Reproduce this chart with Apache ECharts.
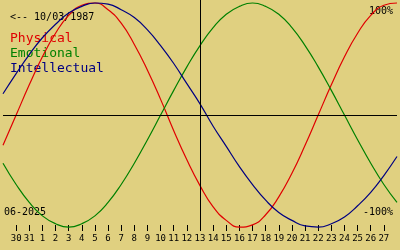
<!DOCTYPE html>
<html><head><meta charset="utf-8">
<script src="https://cdn.jsdelivr.net/npm/echarts@6/dist/echarts.min.js"></script>
<style>html,body{margin:0;padding:0;background:#e0d080}#c{width:400px;height:250px}</style>
</head><body><div id="c"></div>
<script>
// Day labels for positions 0..30 (29 May .. 28 June 2025)
const dayLabels = ['29','30','31','1','2','3','4','5','6','7','8','9','10','11','12','13','14','15','16','17','18','19','20','21','22','23','24','25','26','27','28'];
const todayLabel = '13';
const physical = [-27,0,27,52,73,89,98,100,94,82,63,40,14,-14,-40,-63,-82,-94,-100,-98,-89,-73,-52,-27,0,27,52,73,89,98,100];
const emotional = [-43,-62,-78,-90,-97,-100,-97,-90,-78,-62,-43,-22,0,22,43,62,78,90,97,100,97,90,78,62,43,22,0,-22,-43,-62,-78];
const intellectual = [19,37,54,69,81,91,97,100,99,94,87,76,62,46,28,10,-10,-28,-46,-62,-76,-87,-94,-99,-100,-97,-91,-81,-69,-54,-37];
const birthText = '<-- 10/03/1987';
const monthText = '06-2025';
const seriesNames = ['Physical','Emotional','Intellectual'];
const colors = ['#e00000','#008000','#000080'];

const chart = echarts.init(document.getElementById('c'), null, {renderer:'canvas'});
const mono = '"DejaVu Sans Mono", monospace';
function line(name, data, color, extra) {
  return Object.assign({
    type:'line', name, data, smooth:true, symbol:'none', silent:true,
    lineStyle:{color, width:1.2}, itemStyle:{color}
  }, extra||{});
}
chart.setOption({
  animation:false,
  backgroundColor:'#e0d080',
  grid:{left:0,right:0,top:0,bottom:19},
  xAxis:{
    type:'category', data:dayLabels, boundaryGap:false,
    axisLine:{show:false, onZero:false},
    axisTick:{show:true, inside:true, length:6, interval:(i)=>i>0&&i<dayLabels.length-1, lineStyle:{color:'#000',width:1}},
    axisLabel:{interval:0, margin:3, color:'#000', fontFamily:mono, fontSize:9,
      formatter:(v,i)=> (i>0&&i<dayLabels.length-1)?v:''},
    splitLine:{show:false}
  },
  yAxis:{type:'value', min:-103.5, max:102.7, show:false, splitLine:{show:false}},
  series:[
    line(seriesNames[0], physical, colors[0], {
      markLine:{silent:true, symbol:'none', label:{show:false},
        lineStyle:{color:'#000', width:1, type:'solid'},
        data:[{yAxis:0},{xAxis:todayLabel}]}
    }),
    line(seriesNames[1], emotional, colors[1]),
    line(seriesNames[2], intellectual, colors[2])
  ],
  graphic:[
    {type:'text', left:10, top:12, style:{text:birthText, font:'10px '+mono, fill:'#000'}},
    {type:'text', left:10, top:32, style:{text:seriesNames[0], font:'13px '+mono, fill:colors[0]}},
    {type:'text', left:10, top:47, style:{text:seriesNames[1], font:'13px '+mono, fill:colors[1]}},
    {type:'text', left:10, top:62, style:{text:seriesNames[2], font:'13px '+mono, fill:colors[2]}},
    {type:'text', right:7, top:6, style:{text:'100%', font:'10px '+mono, fill:'#000'}},
    {type:'text', right:7, top:207, style:{text:'-100%', font:'10px '+mono, fill:'#000'}},
    {type:'text', left:4, top:207, style:{text:monthText, font:'10px '+mono, fill:'#000'}}
  ]
});
</script></body></html>
